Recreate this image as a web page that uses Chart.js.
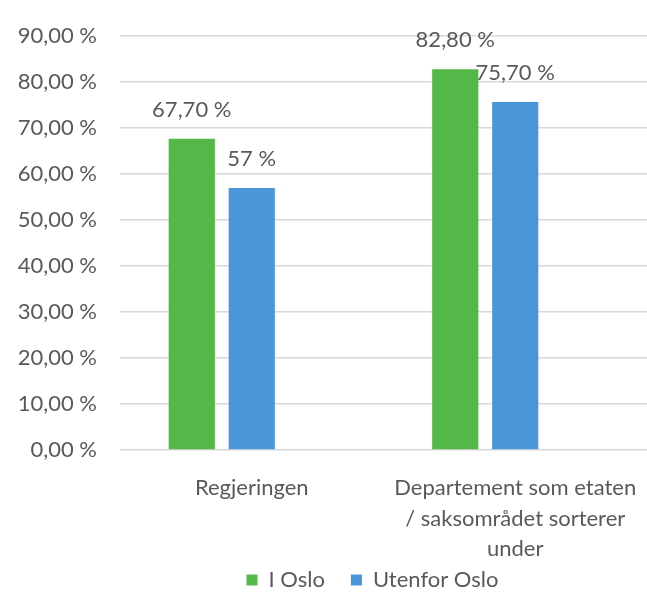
<!DOCTYPE html>
<html>
<head>
<meta charset="utf-8">
<script src="https://cdn.jsdelivr.net/npm/chart.js@4"></script>
<style>
  html, body { margin: 0; padding: 0; background: #fff; }
  #chart { display: block; }
</style>
</head>
<body>
<canvas id="chart" width="647" height="592"></canvas>
<script>
// kategorier og serier
const categories = ['Regjeringen', ['Departement som etaten', '/ saksområdet sorterer', 'under']];
const seriesNames = ['I Oslo', 'Utenfor Oslo'];
const iOslo = [67.7, 82.8];
const utenforOslo = [57, 75.7];
const yTicks = [0, 10, 20, 30, 40, 50, 60, 70, 80, 90];

const green = '#53b847';
const blue = '#4b96d8';
const textColor = '#595959';
const font = { family: 'Lato, "Open Sans", sans-serif', size: 22 };

// tall med komma som desimaltegn
function pct(v, fixed) {
  const s = (fixed || !Number.isInteger(v)) ? v.toFixed(2) : String(v);
  return s.replace('.', ',') + ' %';
}

// verdietiketter over søylene
const valueLabels = {
  id: 'valueLabels',
  afterDatasetsDraw(chart) {
    const ctx = chart.ctx;
    ctx.save();
    ctx.fillStyle = textColor;
    ctx.font = `${font.size}px ${font.family}`;
    ctx.textAlign = 'center';
    ctx.textBaseline = 'bottom';
    chart.data.datasets.forEach((ds, i) => {
      if (!ds.showValues) return;
      chart.getDatasetMeta(i).data.forEach((bar, j) => {
        ctx.fillText(pct(ds.data[j], false), bar.x, bar.y - 18);
      });
    });
    ctx.restore();
  }
};

new Chart(document.getElementById('chart'), {
  type: 'bar',
  data: {
    labels: categories,
    datasets: [
      { label: seriesNames[0], data: iOslo, backgroundColor: green, showValues: true },
      { label: seriesNames[1], data: utenforOslo, backgroundColor: blue, showValues: true },
      // tom tredje plass i hver gruppe
      { label: '', data: [null, null], backgroundColor: 'rgba(0,0,0,0)' }
    ]
  },
  options: {
    responsive: false,
    animation: false,
    datasets: { bar: { categoryPercentage: 0.683, barPercentage: 0.77 } },
    layout: { padding: { top: 34, right: 0, left: 0, bottom: -9 } },
    scales: {
      x: {
        afterFit(scale) {
          scale.height = 115;
          scale.paddingLeft = 0;
          scale.paddingRight = 0;
        },
        grid: { display: false, drawTicks: false },
        border: { display: false },
        ticks: { color: textColor, font: { ...font, lineHeight: 1.38 }, padding: 23, maxRotation: 0 }
      },
      y: {
        min: 0,
        max: 90,
        afterBuildTicks(scale) { scale.ticks = yTicks.map(v => ({ value: v })); },
        afterFit(scale) { scale.width = 120; },
        grid: { color: '#d9d9d9', lineWidth: 1.5, drawTicks: false },
        border: { display: false },
        ticks: { color: textColor, font, padding: 23, callback: v => pct(v, true) }
      }
    },
    plugins: {
      tooltip: { enabled: false },
      legend: {
        position: 'bottom',
        fullSize: false,
        labels: {
          color: textColor,
          font,
          boxWidth: 11,
          boxHeight: 11,
          padding: 4,
          // litt luft etter hver forklaring
          generateLabels(chart) {
            return Chart.defaults.plugins.legend.labels.generateLabels(chart)
              .map(item => ({ ...item, text: item.text ? item.text + '\u2002\u2002' : '' }));
          },
          filter: item => item.text !== ''
        }
      }
    }
  },
  plugins: [valueLabels]
});
</script>
</body>
</html>
